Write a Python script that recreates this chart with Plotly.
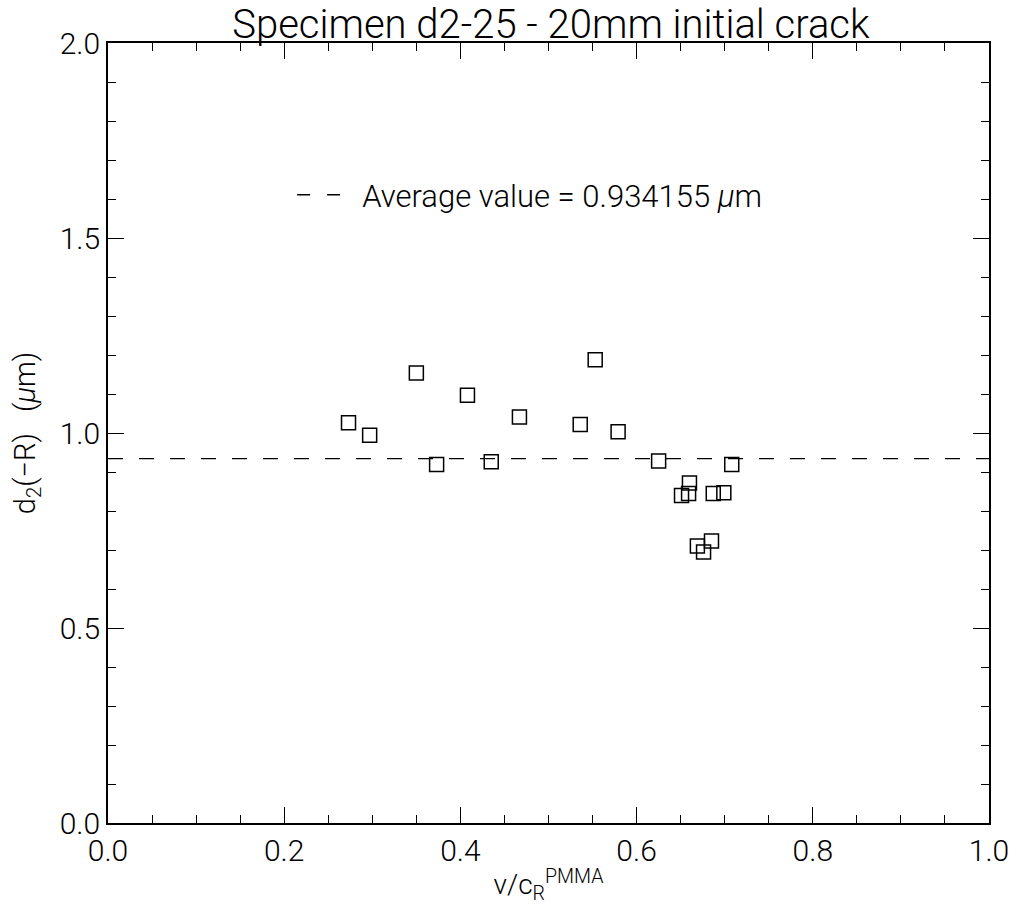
import plotly.graph_objects as go

# data
v_over_cr = [0.273, 0.297, 0.350, 0.373, 0.408, 0.435, 0.467, 0.536, 0.553, 0.579,
             0.625, 0.708, 0.660, 0.651, 0.659, 0.687, 0.699, 0.685, 0.669, 0.676]
d2_minus_r = [1.026, 0.994, 1.154, 0.919, 1.097, 0.926, 1.041, 1.022, 1.188, 1.003,
              0.928, 0.919, 0.872, 0.840, 0.845, 0.845, 0.847, 0.723, 0.710, 0.695]
average_value = 0.934155
avg_x = [0.0, 1.0]
x_ticks = [0.0, 0.2, 0.4, 0.6, 0.8, 1.0]
x_tick_text = ["0.0", "0.2", "0.4", "0.6", "0.8", "1.0"]
y_ticks = [0.0, 0.5, 1.0, 1.5, 2.0]
y_tick_text = ["0.0", "0.5", "1.0", "1.5", "2.0"]

FONT = "Roboto"
W = 300

fig = go.Figure()
fig.add_trace(go.Scatter(
    x=avg_x, y=[average_value] * len(avg_x), mode="lines",
    line=dict(color="black", width=1.3, dash="15px,16px"),
    showlegend=False, hoverinfo="skip"))
fig.add_trace(go.Scatter(
    x=[None], y=[None], mode="lines",
    line=dict(color="black", width=1.3, dash="13px,17px"),
    name="Average value = %.6f <i>μ</i>m" % average_value, showlegend=True))
fig.add_trace(go.Scatter(
    x=v_over_cr, y=d2_minus_r, mode="markers",
    marker=dict(symbol="square-open", size=14, color="black", line=dict(width=1.5, color="black")),
    showlegend=False))

axis_common = dict(
    showline=True, linecolor="black", linewidth=1.6, mirror="ticks",
    ticks="inside", ticklen=16, tickwidth=1.2, tickcolor="black",
    showgrid=False, zeroline=False,
    tickfont=dict(family=FONT, size=30, color="black", weight=W),
)

fig.update_layout(
    width=1021, height=907,
    margin=dict(l=108, r=27, t=43, b=83),
    paper_bgcolor="white", plot_bgcolor="white",
    title=dict(text="Specimen d2-25 - 20mm initial crack",
               font=dict(family=FONT, size=40, color="black", weight=W),
               x=0.5396, xanchor="center", y=0.989, yanchor="top"),
    xaxis=dict(range=[0, 1], tickvals=x_ticks, ticktext=x_tick_text,
               minor=dict(dtick=0.05, ticks="inside", ticklen=8, tickwidth=1.0, tickcolor="black", showgrid=False),
               title=dict(text="v/c<sub>R</sub><sup>PMMA</sup>", standoff=8,
                          font=dict(family=FONT, size=28, color="black", weight=W)),
               automargin=True,
               **axis_common),
    yaxis=dict(range=[0, 2], tickvals=y_ticks, ticktext=y_tick_text,
               minor=dict(dtick=0.1, ticks="inside", ticklen=8, tickwidth=1.0, tickcolor="black", showgrid=False),
               title=dict(text="d<sub>2</sub>(−R)&nbsp;&nbsp;&nbsp;(<i>μ</i>m)", standoff=16,
                          font=dict(family=FONT, size=29, color="black", weight=W)),
               automargin=True,
               **axis_common),
    legend=dict(x=0.209, y=0.805, xanchor="left", yanchor="middle",
                bgcolor="rgba(0,0,0,0)", borderwidth=0, itemwidth=60,
                font=dict(family=FONT, size=31, color="black", weight=W)),
)

fig.write_html("out.html")
